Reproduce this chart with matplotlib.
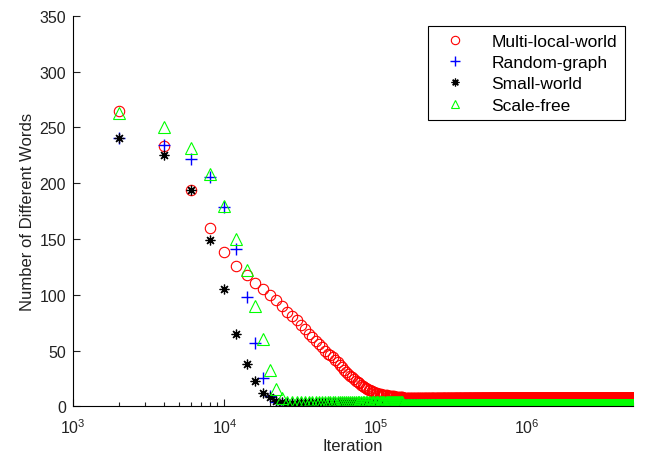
import numpy as np
import matplotlib.pyplot as plt
from matplotlib.ticker import LogLocator, MultipleLocator

plt.rcParams["font.family"] = ["Liberation Sans", "DejaVu Sans"]
plt.rcParams["mathtext.default"] = "regular"

# Iterations sampled every 2000 steps
STEP = 2000
LAST_ITERATION = 5_000_000
iterations = np.arange(STEP, LAST_ITERATION + 1, STEP)

# Values, one per sample from 2000 onwards
multi_local_head = [
    265, 233, 194, 160, 138, 126, 118, 111, 105, 100,
    95, 90, 85, 81, 77, 73, 69, 65, 62, 59,
    56, 53, 50, 47, 46, 44, 42, 39.5, 37, 35,
    33, 31, 29, 27.5, 26, 24.5, 23, 22, 21, 19.5,
    18.5, 17.5, 16.5, 15.8, 15, 14.4, 13.8, 13.2, 12.6, 12.1,
    11.7, 11.3, 11, 10.8, 10.6, 10.4, 10.2, 10, 9.85, 9.7,
    9.55, 9.4, 9.25, 9.1, 9.0, 8.9, 8.8, 8.7, 8.6, 8.5,
    8.4, 8.3, 8.2, 8.1, 8.0, 7.9, 7.8, 7.7, 7.6, 7.5,
]
random_graph_head = [241, 234, 222, 206, 179, 141, 98, 57, 25, 9, 4, 2.5, 2, 1.5, 1.5]
small_world_head = [241, 225, 194, 149, 105, 65, 38, 23, 12, 8, 4.5, 3.5]
scale_free_head = [263, 250, 232, 208, 180, 150, 122, 90, 60, 33, 16, 7.5]

# Plateau levels: (value, held up to this iteration)
multi_local_tail = [(7.5, LAST_ITERATION)]
random_graph_tail = [(1.0, LAST_ITERATION)]
small_world_tail = [(3.0, 100_000), (1.0, LAST_ITERATION)]
scale_free_tail = [(4.0, 150_000), (1.5, LAST_ITERATION)]

labels = ["Multi-local-world", "Random-graph", "Small-world", "Scale-free"]


def build_series(head, tail):
    """Head samples followed by the flat plateaus seen in the picture."""
    values = list(head)
    for level, until in tail:
        count = until // STEP - len(values)
        values.extend([level] * max(count, 0))
    return np.array(values[: len(iterations)])


series = [
    build_series(multi_local_head, multi_local_tail),
    build_series(random_graph_head, random_graph_tail),
    build_series(small_world_head, small_world_tail),
    build_series(scale_free_head, scale_free_tail),
]

styles = [
    dict(marker="o", color="#ff0000", markersize=7.5, markerfacecolor="none", markeredgewidth=0.8),
    dict(marker="+", color="#0000ff", markersize=9, markeredgewidth=1.0),
    dict(marker=(8, 2, 0), color="black", markersize=7, markeredgewidth=0.9),
    dict(marker="^", color="#00ff00", markersize=8, markerfacecolor="none", markeredgewidth=0.8),
]

fig = plt.figure(figsize=(6.48, 4.64), dpi=100)
ax = fig.add_axes([0.1127, 0.122, 0.8642, 0.8416])

for values, label, style in zip(series, labels, styles):
    ax.plot(iterations, values, linestyle="none", label=label, **style)

ax.set_xscale("log")
ax.set_xlim(1e3, LAST_ITERATION)
ax.set_ylim(0, 350)
ax.yaxis.set_major_locator(MultipleLocator(50))
ax.xaxis.set_major_locator(LogLocator(base=10, numticks=10))
ax.xaxis.set_minor_locator(LogLocator(base=10, subs=np.arange(2, 10), numticks=100))

ax.spines["top"].set_visible(False)
ax.spines["right"].set_visible(False)
ax.tick_params(which="both", direction="in", labelsize=11.5, width=0.8, colors="#222222")
ax.tick_params(which="major", length=5)
ax.tick_params(which="minor", length=3)
ax.tick_params(axis="x", pad=8)
ax.tick_params(axis="y", pad=5)

ax.set_xlabel("Iteration", fontsize=12, labelpad=1, color="#222222")
ax.set_ylabel("Number of Different Words", fontsize=12, labelpad=3, color="#222222")

legend = ax.legend(
    loc="upper right",
    bbox_to_anchor=(0.9645, 0.9418),
    bbox_transform=fig.transFigure,
    fontsize=12.5,
    frameon=True,
    fancybox=False,
    edgecolor="black",
    framealpha=1,
    borderpad=0.45,
    labelspacing=0.35,
    handletextpad=1.0,
    handlelength=2.2,
    borderaxespad=0,
    markerscale=0.8,
)
legend.get_frame().set_linewidth(0.8)

fig.savefig("out.png", dpi=100)
